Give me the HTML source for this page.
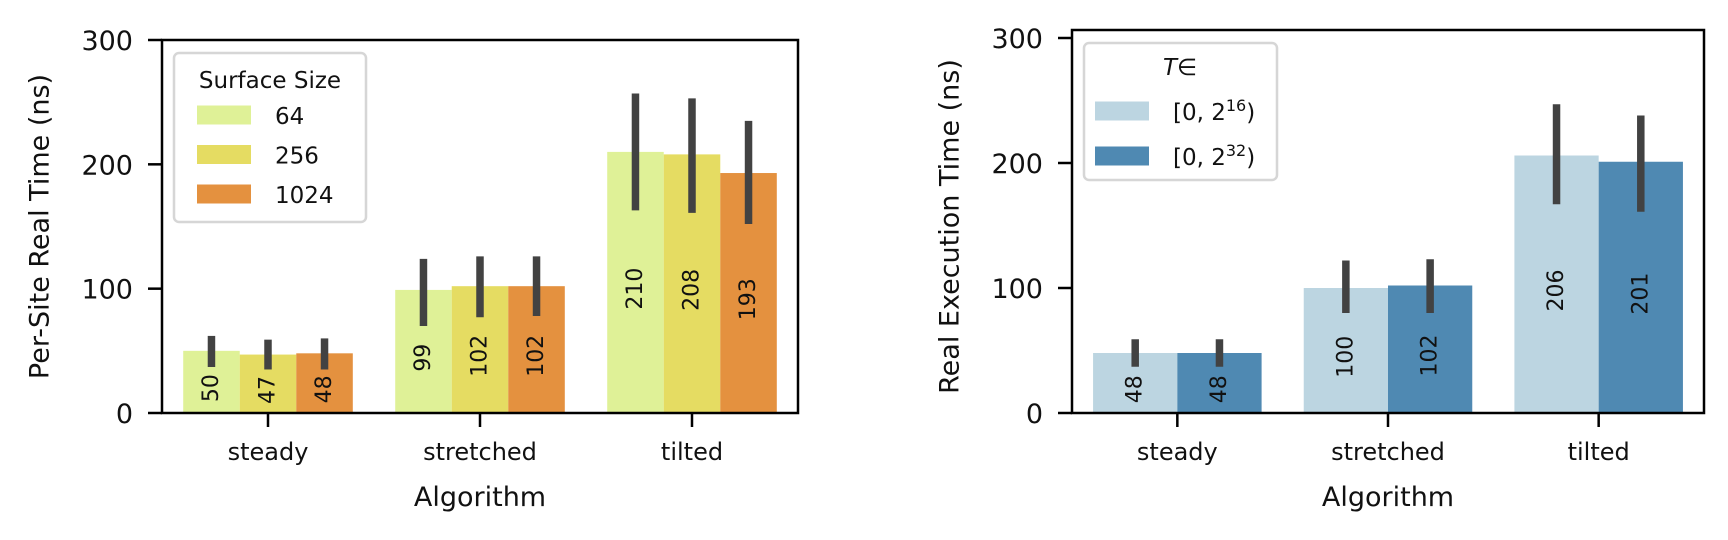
<!DOCTYPE html>
<html><head><meta charset="utf-8"><style>
html,body{margin:0;padding:0;background:#fff;}
svg{display:block;font-family:"DejaVu Sans","Liberation Sans",sans-serif;}
</style></head><body>
<svg id="chart" width="1728" height="540" viewBox="0 0 1728 540" xmlns="http://www.w3.org/2000/svg"></svg>
<script>
const categories = ["steady","stretched","tilted"];
const leftSeriesNames = ["64","256","1024"];
const leftValues = [[50,99,210],[47,102,208],[48,102,193]];
const leftErrLo = [[37,70,163],[35,77,161],[35,78,152]];
const leftErrHi = [[62,124,257],[59,126,253],[60,126,235]];
const rightSeriesNames = ["16","32"];
const rightValues = [[48,100,206],[48,102,201]];
const rightErrLo = [[37,80,167],[37,80,161]];
const rightErrHi = [[59,122,247],[59,123,238]];
const yTicks = [0,100,200,300];

const NS="http://www.w3.org/2000/svg";
const svg=document.getElementById('chart');
function mk(tag,attrs,parent){const e=document.createElementNS(NS,tag);for(const k in attrs)e.setAttribute(k,attrs[k]);(parent||svg).appendChild(e);return e;}

function drawPanel(cfg){
  const g=mk('g',{});
  
  
  const y=v=>cfg.y0-v*(cfg.y0-cfg.yTop)/cfg.ymax;
  const catW=(cfg.x1-cfg.x0)/categories.length;
  const xc=i=>cfg.x0+catW*(i+0.5);
  const n=cfg.values.length, bw=catW*0.8/n;
  cfg.values.forEach((ser,s)=>{
    ser.forEach((v,i)=>{
      const bx=xc(i)-catW*0.4+s*bw;
      const r=mk('rect',{x:bx,y:y(v),width:bw,height:y(0)-y(v),fill:cfg.colors[s]},g);
      
      
      const cx=bx+bw/2, cy=y(v/2-5);
      const t=mk('text',{x:cx,y:cy,'font-size':22,'text-anchor':'middle','dominant-baseline':'central',fill:'#111',transform:`rotate(-90 ${cx} ${cy})`},g);
      t.textContent=v;
      
      
      const l=mk('line',{x1:cx,x2:cx,y1:y(cfg.lo[s][i]),y2:y(cfg.hi[s][i]),stroke:'#424242','stroke-width':7.5},g);
      
      
    });
  });
  const f=mk('rect',{x:cfg.x0,y:cfg.yFrame,width:cfg.x1-cfg.x0,height:cfg.y0-cfg.yFrame,fill:'none',stroke:'#000','stroke-width':2.5},g);
  
  
  yTicks.forEach(t=>{
    mk('line',{x1:cfg.x0-14,x2:cfg.x0,y1:y(t),y2:y(t),stroke:'#000','stroke-width':2.5},g);
    const tx=mk('text',{x:cfg.x0-29,y:y(t)+10,'font-size':27,'text-anchor':'end',fill:'#111'},g);
    tx.textContent=t;
    
    
  });
  categories.forEach((c,i)=>{
    mk('line',{x1:xc(i),x2:xc(i),y1:cfg.y0,y2:cfg.y0+14,stroke:'#000','stroke-width':2.5},g);
    const tx=mk('text',{x:xc(i),y:460,'font-size':24,'text-anchor':'middle',fill:'#111'},g);
    tx.textContent=c;
    
    
  });
  const xl=mk('text',{x:(cfg.x0+cfg.x1)/2,y:506,'font-size':27,'text-anchor':'middle',fill:'#111'},g);
  xl.textContent='Algorithm';
  
  
  const yc=(cfg.y0+40)/2;
  const yl=mk('text',{x:cfg.ylabX,y:yc,'font-size':27,'text-anchor':'middle','dominant-baseline':'central',fill:'#111',transform:`rotate(-90 ${cfg.ylabX} ${yc})`},g);
  yl.textContent=cfg.ylabel;
  
  
  return g;
}

drawPanel({name:'left-panel',x0:162,x1:798,y0:413,yTop:40,yFrame:40,ymax:300,colors:['#dff197','#e5dc62','#e4913f'],series:leftSeriesNames,values:leftValues,lo:leftErrLo,hi:leftErrHi,ylabel:'Per-Site Real Time (ns)',ylabX:40});
drawPanel({name:'right-panel',x0:1072,x1:1704,y0:413,yTop:38,yFrame:30,ymax:300,colors:['#bcd5e1','#4f89b2'],series:rightSeriesNames,values:rightValues,lo:rightErrLo,hi:rightErrHi,ylabel:'Real Execution Time (ns)',ylabX:950});
</script>
<script>
(function(){
const NS="http://www.w3.org/2000/svg";const svg=document.getElementById('chart');
function mk(tag,a,p){const e=document.createElementNS(NS,tag);for(const k in a)e.setAttribute(k,a[k]);(p||svg).appendChild(e);return e;}
const lg=mk('g',{});


mk('rect',{x:174,y:53,width:192,height:169,rx:5,fill:'#fff','fill-opacity':0.85,stroke:'#d6d6d6','stroke-width':2.5},lg);
const lt=mk('text',{x:270,y:88,'font-size':23,'text-anchor':'middle',fill:'#111'},lg);lt.textContent='Surface Size';
const lc=['#dff197','#e5dc62','#e4913f'];
leftSeriesNames.forEach((n,i)=>{
  const cy=115+i*39.5;
  const e=mk('g',{},lg);
  
  
  mk('rect',{x:197,y:cy-9.5,width:54,height:19,fill:lc[i]},e);
  const t=mk('text',{x:275,y:cy+9,'font-size':23,fill:'#111'},e);t.textContent=n;
});
const rg=mk('g',{});


mk('rect',{x:1084,y:43,width:193,height:137,rx:5,fill:'#fff','fill-opacity':0.85,stroke:'#d6d6d6','stroke-width':2.5},rg);
const rt=mk('text',{x:1180,y:75,'font-size':23,'text-anchor':'middle',fill:'#111'},rg);
rt.innerHTML='<tspan font-style="italic">T</tspan>∈';
const rc=['#bcd5e1','#4f89b2'];
rightSeriesNames.forEach((n,i)=>{
  const cy=111+i*45;
  const e=mk('g',{},rg);
  
  
  mk('rect',{x:1095,y:cy-9.5,width:54,height:19,fill:rc[i]},e);
  const t=mk('text',{x:1173,y:cy+9,'font-size':23,fill:'#111'},e);
  t.innerHTML='[0, 2<tspan font-size="16" dy="-9">'+n+'</tspan><tspan dy="9">)</tspan>';
});
})();
</script>
</body></html>
